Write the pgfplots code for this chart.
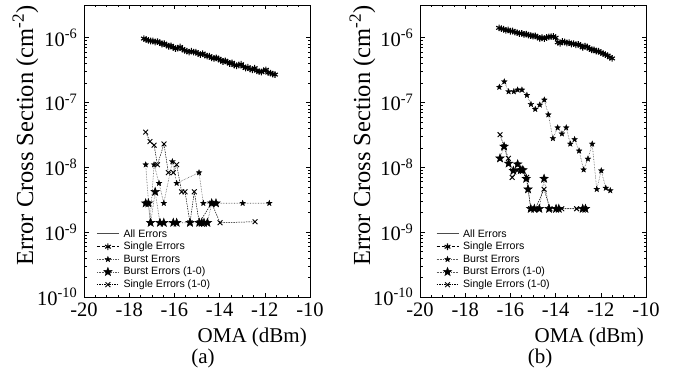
\documentclass[border=0pt]{standalone}
\usepackage{pgfplots}
\pgfplotsset{compat=1.18}
\usepackage{pgfplotstable}
\usepackage{fontspec}
\setmainfont{Liberation Serif}
\newfontfamily\legfont{Liberation Sans}
\usetikzlibrary{plotmarks}

\pgfdeclareplotmark{fivestar}{%
  \pgfpathmoveto{\pgfpointpolar{90}{\pgfplotmarksize}}%
  \pgfpathlineto{\pgfpointpolar{126}{0.42\pgfplotmarksize}}%
  \pgfpathlineto{\pgfpointpolar{162}{\pgfplotmarksize}}%
  \pgfpathlineto{\pgfpointpolar{198}{0.42\pgfplotmarksize}}%
  \pgfpathlineto{\pgfpointpolar{234}{\pgfplotmarksize}}%
  \pgfpathlineto{\pgfpointpolar{270}{0.42\pgfplotmarksize}}%
  \pgfpathlineto{\pgfpointpolar{306}{\pgfplotmarksize}}%
  \pgfpathlineto{\pgfpointpolar{342}{0.42\pgfplotmarksize}}%
  \pgfpathlineto{\pgfpointpolar{18}{\pgfplotmarksize}}%
  \pgfpathlineto{\pgfpointpolar{54}{0.42\pgfplotmarksize}}%
  \pgfpathclose
  \pgfusepathqfillstroke
}

\pgfplotstableread{
x all single
-17.35 9.9e-7 9.7e-7
-17.25 9.5e-7 9.4e-7
-17.15 9.3e-7 9.1e-7
-17.05 9.0e-7 8.9e-7
-16.95 9.1e-7 8.9e-7
-16.85 8.8e-7 8.6e-7
-16.75 8.9e-7 8.7e-7
-16.65 8.5e-7 8.4e-7
-16.55 8.2e-7 8.0e-7
-16.45 8.3e-7 8.1e-7
-16.35 7.8e-7 7.7e-7
-16.25 7.6e-7 7.4e-7
-16.15 7.7e-7 7.5e-7
-16.05 7.2e-7 7.1e-7
-15.95 6.9e-7 6.8e-7
-15.85 7.1e-7 6.9e-7
-15.75 7.4e-7 7.2e-7
-15.65 6.8e-7 6.7e-7
-15.55 6.6e-7 6.4e-7
-15.45 6.3e-7 6.2e-7
-15.35 6.2e-7 6.0e-7
-15.25 6.4e-7 6.2e-7
-15.15 6.1e-7 6.0e-7
-15.05 6.2e-7 6.0e-7
-14.95 5.8e-7 5.7e-7
-14.85 5.6e-7 5.5e-7
-14.75 5.9e-7 5.7e-7
-14.65 5.5e-7 5.4e-7
-14.55 5.3e-7 5.2e-7
-14.45 5.4e-7 5.2e-7
-14.35 5.0e-7 4.9e-7
-14.25 4.9e-7 4.8e-7
-14.15 5.1e-7 4.9e-7
-14.05 4.8e-7 4.7e-7
-13.95 4.6e-7 4.5e-7
-13.85 4.4e-7 4.3e-7
-13.75 4.5e-7 4.4e-7
-13.65 4.3e-7 4.2e-7
-13.55 4.1e-7 4.0e-7
-13.45 4.2e-7 4.1e-7
-13.35 3.9e-7 3.8e-7
-13.25 3.8e-7 3.7e-7
-13.15 3.9e-7 3.8e-7
-13.05 4.0e-7 3.9e-7
-12.95 3.7e-7 3.6e-7
-12.85 3.5e-7 3.4e-7
-12.75 3.6e-7 3.5e-7
-12.65 3.4e-7 3.3e-7
-12.55 3.3e-7 3.2e-7
-12.45 3.5e-7 3.4e-7
-12.35 3.2e-7 3.1e-7
-12.25 3.1e-7 3.0e-7
-12.15 3.0e-7 2.95e-7
-12.05 3.2e-7 3.1e-7
-11.95 3.3e-7 3.2e-7
-11.85 3.0e-7 2.9e-7
-11.75 2.9e-7 2.85e-7
-11.65 2.8e-7 2.75e-7
-11.55 2.75e-7 2.7e-7
}\topA

\pgfplotstableread{
x all single
-16.5 1.45e-6 1.42e-6
-16.4 1.40e-6 1.38e-6
-16.3 1.38e-6 1.35e-6
-16.2 1.32e-6 1.30e-6
-16.1 1.35e-6 1.32e-6
-16.0 1.28e-6 1.26e-6
-15.9 1.30e-6 1.27e-6
-15.8 1.24e-6 1.22e-6
-15.7 1.22e-6 1.20e-6
-15.6 1.18e-6 1.16e-6
-15.5 1.20e-6 1.17e-6
-15.4 1.15e-6 1.13e-6
-15.3 1.16e-6 1.14e-6
-15.2 1.12e-6 1.10e-6
-15.1 1.10e-6 1.08e-6
-15.0 1.08e-6 1.06e-6
-14.9 1.10e-6 1.07e-6
-14.8 1.04e-6 1.02e-6
-14.7 1.00e-6 0.98e-6
-14.6 1.02e-6 1.00e-6
-14.5 0.99e-6 0.97e-6
-14.4 1.03e-6 1.01e-6
-14.3 1.05e-6 1.03e-6
-14.2 1.06e-6 1.04e-6
-14.1 1.07e-6 1.05e-6
-14.0 1.02e-6 1.00e-6
-13.9 0.86e-6 0.85e-6
-13.8 0.84e-6 0.82e-6
-13.7 0.90e-6 0.88e-6
-13.6 0.88e-6 0.86e-6
-13.5 0.85e-6 0.83e-6
-13.4 0.86e-6 0.84e-6
-13.3 0.82e-6 0.80e-6
-13.2 0.83e-6 0.81e-6
-13.1 0.80e-6 0.78e-6
-13.0 0.81e-6 0.79e-6
-12.9 0.78e-6 0.76e-6
-12.8 0.72e-6 0.71e-6
-12.7 0.76e-6 0.74e-6
-12.6 0.74e-6 0.72e-6
-12.5 0.70e-6 0.68e-6
-12.4 0.66e-6 0.65e-6
-12.3 0.67e-6 0.65e-6
-12.2 0.63e-6 0.62e-6
-12.1 0.64e-6 0.62e-6
-12.0 0.60e-6 0.59e-6
-11.9 0.59e-6 0.57e-6
-11.8 0.56e-6 0.55e-6
-11.7 0.54e-6 0.53e-6
-11.6 0.51e-6 0.50e-6
-11.5 0.49e-6 0.48e-6
}\topB

\pgfplotsset{
  every axis/.append style={
    scale only axis, width=226pt, height=292pt,
    xmin=-20, xmax=-10, ymode=log, ymin=1e-10, ymax=3.2e-6,
    xtick={-20,-18,-16,-14,-12,-10},
    xticklabels={-20,-18,-16,-14,-12,-10},
    minor x tick num=3,
    ytick={1e-10,1e-9,1e-8,1e-7,1e-6},
    yticklabels={10\textsuperscript{-10},10\textsuperscript{-9},10\textsuperscript{-8},10\textsuperscript{-7},10\textsuperscript{-6}},
    tick align=inside,
    major tick length=4.5pt, minor tick length=2.5pt,
    tick style={black, line width=0.6pt},
    axis line style={line width=0.8pt},
    tick label style={font=\fontsize{20.5}{22}\selectfont, inner sep=0.5pt},
    xticklabel style={yshift=-5.5pt},
    yticklabel style={xshift=-6pt},
    legend cell align=left,
    legend style={draw=none, fill=none, font=\legfont\fontsize{10.6}{11}\selectfont,
      anchor=south west, row sep=1.2pt, inner sep=0.5pt,
      nodes={inner sep=1.2pt},
      /tikz/every odd column/.append style={column sep=3pt}},
    legend image code/.code={\draw[mark repeat=2,mark phase=2,#1] plot coordinates {(0pt,0pt) (11pt,0pt) (22pt,0pt)};},
  },
  allstyle/.style={solid, gray!60!black, line width=0.9pt, mark=none},
  singstyle/.style={densely dashed, black, line width=0.5pt, mark=asterisk, mark size=3.3pt, mark options={solid, line width=1.1pt}},
  burststyle/.style={densely dotted, gray!70!black, line width=0.6pt, mark=fivestar, mark size=3pt, mark options={solid, black, fill=black, line width=0.3pt}},
  burst10style/.style={densely dotted, gray!70!black, line width=0.6pt, mark=fivestar, mark size=4.4pt, mark options={solid, black, fill=black, line width=0.5pt}},
  sing10style/.style={dashed, dash pattern=on 1.5pt off 1pt, black, line width=0.5pt, mark=x, mark size=3.4pt, mark options={solid, line width=0.9pt}},
}

\begin{document}
\begin{tikzpicture}[x=1pt,y=1pt]
\useasboundingbox (0,0) rectangle (674,374);

% ---------- panel (a)
\begin{axis}[at={(84pt,77pt)}, anchor=south west,
  legend style={at={(rel axis cs:0.052,0.02)}}]
\addplot[allstyle] table[x=x,y=all] {\topA};
\addlegendentry{All Errors}
\addplot[singstyle] table[x=x,y=single] {\topA};
\addlegendentry{Single Errors}
\addplot[burststyle] coordinates {(-17.27,1.1e-8) (-17.08,1.4e-9) (-16.90,1.1e-8) (-16.68,5.7e-9) (-16.47,2.8e-9) (-16.09,1.23e-8) (-15.90,5.7e-9) (-14.91,8.3e-9) (-14.72,2.8e-9) (-12.98,2.8e-9) (-11.80,2.8e-9)};
\addlegendentry{Burst Errors}
\addplot[burst10style] coordinates {(-17.27,2.8e-9) (-17.15,2.8e-9) (-17.05,1.4e-9) (-16.85,4.2e-9) (-16.64,1.4e-9) (-16.47,1.4e-9) (-16.05,1.4e-9) (-15.90,1.4e-9) (-15.31,1.4e-9) (-14.90,1.4e-9) (-14.79,1.4e-9) (-14.69,1.4e-9) (-14.54,1.4e-9) (-14.35,2.8e-9) (-14.16,2.8e-9)};
\addlegendentry{Burst Errors (1-0)}
\addplot[sing10style] coordinates {(-17.27,3.5e-8) (-17.08,2.5e-8) (-16.90,2.2e-8) (-16.75,1.1e-8) (-16.46,2.3e-8) (-16.27,8.3e-9) (-16.05,8.3e-9) (-15.90,1.1e-8) (-15.68,4.2e-9) (-15.53,4.2e-9) (-15.31,1.4e-9) (-15.12,4.2e-9) (-14.90,1.4e-9) (-14.35,2.8e-9) (-13.98,1.4e-9) (-12.43,1.45e-9)};
\addlegendentry{Single Errors (1-0)}
\end{axis}

% ---------- panel (b)
\begin{axis}[at={(420pt,77pt)}, anchor=south west,
  legend style={at={(rel axis cs:0.068,0.02)}}]
\addplot[allstyle] table[x=x,y=all] {\topB};
\addlegendentry{All Errors}
\addplot[singstyle] table[x=x,y=single] {\topB};
\addlegendentry{Single Errors}
\addplot[burststyle] coordinates {(-16.49,1.73e-7) (-16.27,2.1e-7) (-16.08,1.48e-7) (-15.85,1.48e-7) (-15.68,1.57e-7) (-15.49,1.57e-7) (-15.27,1.3e-7) (-15.09,9.4e-8) (-14.90,7.9e-8) (-14.70,9.2e-8) (-14.50,1.1e-7) (-14.32,6.5e-8) (-14.12,2.8e-8) (-13.91,4.1e-8) (-13.72,3.3e-8) (-13.53,4.1e-8) (-13.35,2.3e-8) (-13.16,2.7e-8) (-12.96,1.8e-8) (-12.76,9.2e-9) (-12.57,1.35e-8) (-12.38,2.3e-8) (-12.18,4.6e-9) (-11.98,8.9e-9) (-11.78,4.8e-9) (-11.58,4.4e-9)};
\addlegendentry{Burst Errors}
\addplot[burst10style] coordinates {(-16.46,1.38e-8) (-16.28,2.1e-8) (-16.08,1.15e-8) (-15.87,8.9e-9) (-15.68,1.12e-8) (-15.54,9.1e-9) (-15.45,9.1e-9) (-15.30,6.7e-9) (-15.22,4.6e-9) (-15.10,2.3e-9) (-14.94,2.3e-9) (-14.72,2.3e-9) (-14.51,6.7e-9) (-14.29,2.3e-9) (-13.98,2.3e-9) (-13.86,2.3e-9) (-12.80,2.3e-9) (-12.68,2.3e-9)};
\addlegendentry{Burst Errors (1-0)}
\addplot[sing10style] coordinates {(-16.46,3.2e-8) (-16.28,2.1e-8) (-16.09,1.38e-8) (-15.92,7e-9) (-15.70,8.9e-9) (-15.50,9.3e-9) (-15.28,7e-9) (-15.10,2.3e-9) (-14.90,2.3e-9) (-14.51,4.6e-9) (-14.25,2.3e-9) (-13.73,2.3e-9) (-13.07,2.3e-9) (-12.72,2.3e-9)};
\addlegendentry{Single Errors (1-0)}
\end{axis}

% ---------- labels
\node[rotate=90, anchor=base west, inner sep=0pt, font=\fontsize{24.5}{26}\selectfont] at (33,108) {Error Cross Section (cm\textsuperscript{-2})};
\node[rotate=90, anchor=base west, inner sep=0pt, font=\fontsize{24.5}{26}\selectfont] at (370,108) {Error Cross Section (cm\textsuperscript{-2})};
\node[anchor=base east, inner sep=0pt, font=\fontsize{21}{23}\selectfont] at (307,31) {OMA (dBm)};
\node[anchor=base east, inner sep=0pt, font=\fontsize{21}{23}\selectfont] at (644,31) {OMA (dBm)};
\node[anchor=base, inner sep=0pt, font=\fontsize{21}{23}\selectfont] at (203,10) {(a)};
\node[anchor=base, inner sep=0pt, font=\fontsize{21}{23}\selectfont] at (540,10) {(b)};
\end{tikzpicture}
\end{document}
